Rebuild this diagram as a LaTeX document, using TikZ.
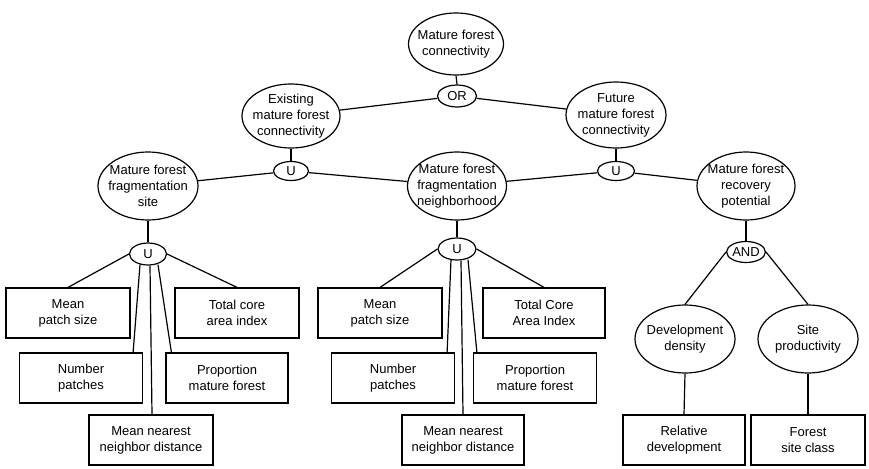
\documentclass[tikz,border=0pt]{standalone}
\usepackage{fontspec}
\setmainfont{Liberation Sans}
\usetikzlibrary{shapes.geometric,calc}
\begin{document}
\begin{tikzpicture}[x=1pt,y=-1pt,
  lbl/.style={font=\fontsize{13}{16}\selectfont, align=center, inner sep=0pt},
  oval/.style={draw, ellipse, line width=1.2pt, inner sep=0pt},
  gate/.style={draw, ellipse, line width=1.2pt, inner sep=0pt,
    minimum width=37pt, minimum height=21pt, font=\fontsize{13}{15}\selectfont},
  leaf/.style={draw, rectangle, line width=1.2pt, minimum height=50pt,
    align=center, inner sep=0pt, font=\fontsize{13}{16}\selectfont},
  link/.style={line width=1.2pt}]
\fill[white] (0,0) rectangle (869,468);
\useasboundingbox (0,0) rectangle (869,468);

% top of the hierarchy
\node[oval, minimum width=95pt, minimum height=62pt,
  label={[lbl]center:Mature forest\\connectivity}] (mfc) at (456,44) {};
\node[gate, minimum width=39pt, minimum height=22pt] (or) at (457,96) {OR};
\node[oval, minimum width=98pt, minimum height=64pt,
  label={[lbl]center:Existing\\mature forest\\connectivity}] (emfc) at (291,116) {};
\node[oval, minimum width=100pt, minimum height=66pt,
  label={[lbl]center:Future\\mature forest\\connectivity}] (fmfc) at (616,115) {};
\node[gate, minimum width=35pt, minimum height=19pt] (u1) at (291,171) {U};
\node[gate, minimum width=37pt, minimum height=19pt] (u2) at (616,171) {U};

% second level
\node[oval, minimum width=100pt, minimum height=68pt,
  label={[lbl]center:Mature forest\\fragmentation\\site}] (mffs) at (148,186) {};
\node[oval, minimum width=99pt, minimum height=68pt,
  label={[lbl]center:Mature forest\\fragmentation\\neighborhood}] (mffn) at (457,186) {};
\node[oval, minimum width=98pt, minimum height=68pt,
  label={[lbl]center:Mature forest\\recovery\\potential}] (mfrp) at (746,186) {};

\node[gate, minimum width=37pt, minimum height=22pt] (us) at (148,254) {U};
\node[gate, minimum width=38pt, minimum height=22pt] (un) at (457,249) {U};
\node[gate, minimum width=38pt, minimum height=21pt] (and) at (746,252) {AND};

% recovery branch
\node[oval, minimum width=100pt, minimum height=68pt,
  label={[lbl]center:Development\\density}] (dd) at (685,339) {};
\node[oval, minimum width=100pt, minimum height=68pt,
  label={[lbl]center:Site\\productivity}] (sp) at (808,339) {};
\node[leaf, minimum width=122pt] (rd) at (684,440) {Relative\\development};
\node[leaf, minimum width=114pt] (fsc) at (808,440) {Forest\\site class};

% site indicators
\node[leaf, minimum width=124pt] (mps1) at (68,313) {Mean\\patch size};
\node[leaf, minimum width=124pt] (tca1) at (237,313) {Total core\\area index};
\node[leaf, minimum width=123pt] (np1) at (81,378) {Number\\patches};
\node[leaf, minimum width=122pt] (pm1) at (227,378) {Proportion\\mature forest};
\node[leaf, minimum width=124pt] (mn1) at (151,440) {Mean nearest\\neighbor distance};

% neighborhood indicators
\node[leaf, minimum width=124pt] (mps2) at (380,313) {Mean\\patch size};
\node[leaf, minimum width=122pt] (tca2) at (544,313) {Total Core\\Area Index};
\node[leaf, minimum width=123pt] (np2) at (393,378) {Number\\patches};
\node[leaf, minimum width=123pt] (pm2) at (535,378) {Proportion\\mature forest};
\node[leaf, minimum width=122pt] (mn2) at (463,440) {Mean nearest\\neighbor distance};

% connectors
\draw[link] (mfc.south) -- (or.north);
\draw[link] (or) -- (emfc);
\draw[link] (or) -- (fmfc);
\draw[link] (emfc.south) -- (u1.north);
\draw[link] (fmfc.south) -- (u2.north);
\draw[link] (u1) -- (mffs);
\draw[link] (u1) -- (mffn);
\draw[link] (u2) -- (mffn);
\draw[link] (u2) -- (mfrp);
\draw[link] (mffs.south) -- (us.north);
\draw[link] (mffn.south) -- (un.north);
\draw[link] (mfrp.south) -- (and.north);
\draw[link] (and.west) -- (dd.north);
\draw[link] (and.east) -- (sp.north);
\draw[link] (dd.south) -- (rd.north);
\draw[link] (sp.south) -- (fsc.north);

\draw[link] (us.west) -- (mps1.north);
\draw[link] (us.east) -- (tca1.north);
\draw[link] ($(us.south)+(-8,-1)$) -- ($(np1.north east)+(-10,0)$);
\draw[link] ($(us.south)+(2,0)$) -- ($(mn1.north)+(1,0)$);
\draw[link] ($(us.south)+(10,-1)$) -- ($(pm1.north west)+(6,0)$);

\draw[link] (un.west) -- (mps2.north);
\draw[link] (un.east) -- (tca2.north);
\draw[link] ($(un.south)+(-6,-1)$) -- ($(np2.north east)+(-8,0)$);
\draw[link] ($(un.south)+(4,0)$) -- (mn2.north);
\draw[link] ($(un.south)+(11,-1)$) -- ($(pm2.north west)+(4,0)$);
\end{tikzpicture}
\end{document}
